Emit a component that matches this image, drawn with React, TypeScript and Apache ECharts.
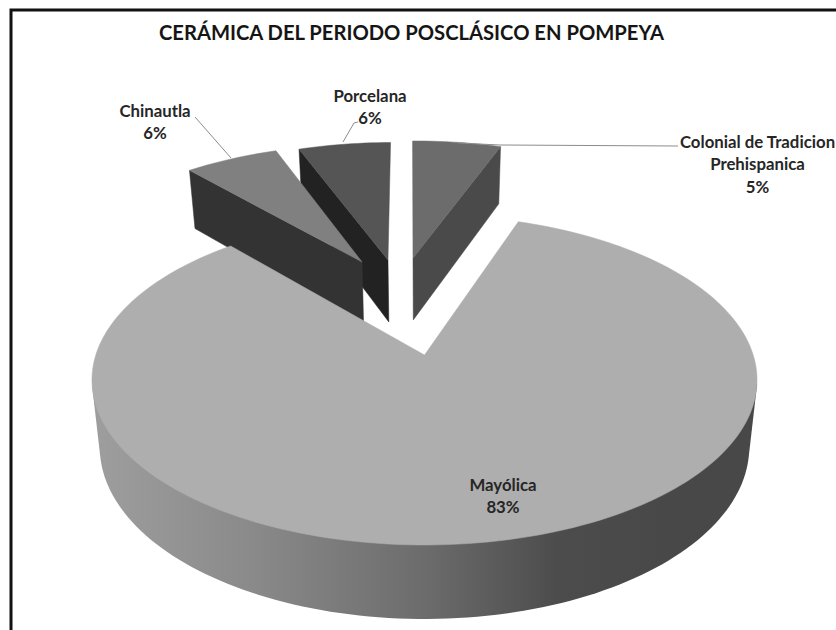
import React, { useEffect, useRef } from "react";
import * as echarts from "echarts";

const title = "CERÁMICA DEL PERIODO POSCLÁSICO EN POMPEYA";
const categories = ["Colonial de Tradicion\nPrehispanica", "Mayólica", "Chinautla", "Porcelana"];
const values = [5.4, 83.3, 5.7, 5.6];

// Styling and view geometry (not data)
const startAngle = -0.4;
const explodeU = [-0.0385, 0, -0.208, -0.122];
const explodeV = [-0.662, 0, -0.632, -0.647];
const topFill = ["#6c6c6c", "#aeaeae", "#808080", "#555555"];
const wallFill = ["#4a4a4a", "", "#333333", "#222222"];
const drawOrder = [2, 4, 3, 1];
const labelPos = [[757.5, 141], [503, 484], [155, 110], [370, 95]];
const leaders: number[][][] = [
  [[678, 146], [500, 145], [458, 143]],
  [],
  [[195, 117], [231, 158]],
  [[358, 122], [354, 123], [343, 142]],
];
const wallGradient = {
  type: "linear",
  global: true,
  x: 92,
  y: 0,
  x2: 757,
  y2: 0,
  colorStops: [
    { offset: 0, color: "#9e9e9e" },
    { offset: 0.24, color: "#8a8a8a" },
    { offset: 0.5, color: "#6c6c6c" },
    { offset: 0.7, color: "#4c4c4c" },
    { offset: 0.88, color: "#484848" },
    { offset: 1, color: "#484848" },
  ],
};
const persp = 0.1515;
const topDisc = { cx: 424.5, cy: 355, a: 328.7, b: 161.2 };
const bottomDisc = { cx: 424.5, cy: 421, a: 321, b: 168 };

const total = values.reduce((s, v) => s + v, 0);

function project(d: typeof topDisc, u: number, v: number): number[] {
  const w = 1 - persp * v;
  return [d.cx + (d.a * u) / w, d.cy + (d.b * v) / w];
}

function rimPoint(d: typeof topDisc, i: number, deg: number, r = 1): number[] {
  const t = (deg * Math.PI) / 180;
  return project(d, explodeU[i] + r * Math.sin(t), explodeV[i] - r * Math.cos(t));
}

// Outline of the curved wall: the hull of the two rims' front parts, so its sides are tangent to both rims.
function convexHull(points: number[][]): number[][] {
  const p = points.slice().sort((a, b) => a[0] - b[0] || a[1] - b[1]);
  const cross = (o: number[], a: number[], b: number[]) =>
    (a[0] - o[0]) * (b[1] - o[1]) - (a[1] - o[1]) * (b[0] - o[0]);
  const half = (list: number[][]) => {
    const h: number[][] = [];
    for (const q of list) {
      while (h.length >= 2 && cross(h[h.length - 2], h[h.length - 1], q) <= 0) h.pop();
      h.push(q);
    }
    h.pop();
    return h;
  };
  return [...half(p), ...half(p.slice().reverse())];
}

function renderSlice(params: any, api: any) {
  const i = params.dataIndex;
  const value = api.value(0) as number;
  let before = 0;
  for (let k = 0; k < i; k++) before += values[k];
  const a0 = startAngle + (before / total) * 360;
  const a1 = a0 + (value / total) * 360;
  const z = drawOrder[i] * 10;
  const children: any[] = [];

  const steps = Math.max(6, Math.ceil((a1 - a0) / 1.5));
  const angles: number[] = [];
  const topArc: number[][] = [];
  const botArc: number[][] = [];
  for (let s = 0; s <= steps; s++) {
    const deg = a0 + ((a1 - a0) * s) / steps;
    angles.push(deg);
    topArc.push(rimPoint(topDisc, i, deg));
    botArc.push(rimPoint(bottomDisc, i, deg));
  }
  const topApex = rimPoint(topDisc, i, 0, 0);
  const botApex = rimPoint(bottomDisc, i, 0, 0);

  if (wallFill[i]) {
    // The radial wall that faces the viewer.
    const facing = i === 0
      ? [topArc[topArc.length - 1], topApex, botApex, botArc[botArc.length - 1]]
      : [topArc[0], topApex, botApex, botArc[0]];
    children.push({
      type: "polygon",
      z2: z,
      shape: { points: facing },
      style: { fill: wallFill[i], stroke: wallFill[i], lineWidth: 0.5 },
    });
  } else {
    const front = (arc: number[][]) => arc.filter((_, s) => angles[s] >= 100 && angles[s] <= 260);
    children.push({
      type: "polygon",
      z2: z,
      shape: { points: convexHull([...front(topArc), ...front(botArc)]) },
      style: { fill: wallGradient },
    });
  }

  children.push({
    type: "polygon",
    z2: z + 1,
    shape: { points: [topApex, ...topArc] },
    style: { fill: topFill[i], stroke: topFill[i], lineWidth: 0.5 },
  });

  if (leaders[i].length) {
    children.push({
      type: "polyline",
      z2: 60,
      shape: { points: leaders[i] },
      style: { fill: "none", stroke: "#8c8c8c", lineWidth: 1 },
    });
  }

  const pct = Math.round((value / total) * 100);
  children.push({
    type: "text",
    z2: 70,
    x: labelPos[i][0],
    y: labelPos[i][1] - 11,
    style: {
      text: `${categories[i]}\n${pct}%`,
      fill: "#262626",
      font: "bold 16.8px Lato",
      lineHeight: 22.5,
      align: "center",
      verticalAlign: "top",
    },
  });
  return { type: "group", children };
}

export default function App() {
  const ref = useRef<HTMLDivElement>(null);
  useEffect(() => {
    document.body.style.margin = "0";
    document.body.style.background = "#fff";
    const chart = echarts.init(ref.current!, null, { renderer: "svg" });
    chart.setOption({
      animation: false,
      backgroundColor: "#ffffff",
      title: {
        text: title,
        left: 406.5,
        top: 17,
        textAlign: "center",
        textStyle: { fontFamily: "Lato", fontWeight: "bold", fontSize: 20.2, color: "#151515" },
      },
      graphic: [
        {
          type: "rect",
          silent: true,
          shape: { x: 11, y: 10, width: 860, height: 660 },
          style: { fill: "none", stroke: "#111111", lineWidth: 3 },
          z: -1,
        },
      ],
      series: [
        {
          type: "custom",
          coordinateSystem: "none",
          silent: true,
          data: values.map((v, i) => ({ name: categories[i], value: [v] })),
          renderItem: renderSlice,
        },
      ],
    });
    return () => chart.dispose();
  }, []);
  return <div ref={ref} style={{ width: 836, height: 630 }} />;
}
